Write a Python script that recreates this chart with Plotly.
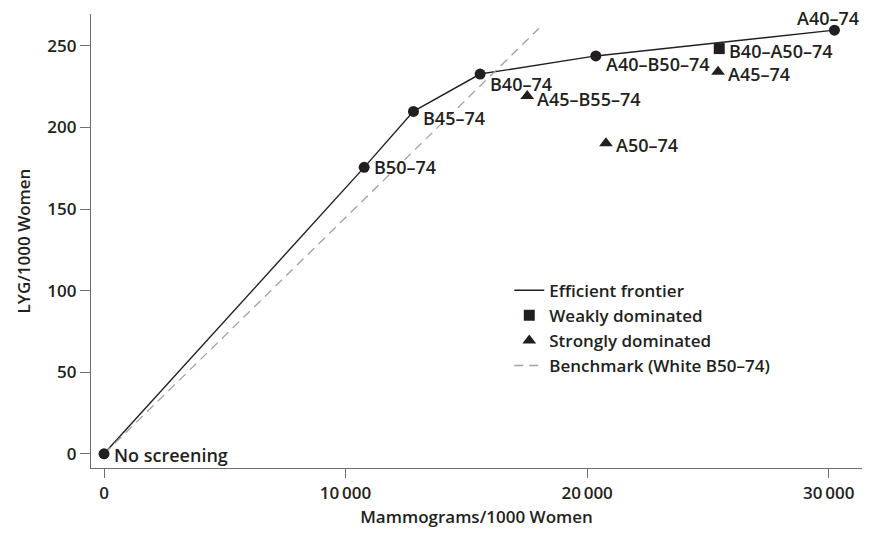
import plotly.graph_objects as go

# ---- data ----
frontier_names = ["No screening", "B50\u201374", "B45\u201374", "B40\u201374", "A40\u2013B50\u201374", "A40\u201374"]
frontier_x = [0, 10770, 12810, 15570, 20360, 30240]
frontier_y = [0, 175.6, 209.9, 232.8, 243.9, 259.7]

weak_names = ["B40\u2013A50\u201374"]
weak_x = [25470]
weak_y = [248.4]

strong_names = ["A45\u2013B55\u201374", "A45\u201374", "A50\u201374"]
strong_x = [17520, 25420, 20780]
strong_y = [219.3, 234.2, 190.4]

bench_x = [0, 18000]
bench_y = [0, 260.7]

x_ticks = [0, 10000, 20000, 30000]
x_ticklabels = ["0", "10\u2009000", "20\u2009000", "30\u2009000"]
y_ticks = [0, 50, 100, 150, 200, 250]

# label offsets (style only): name -> (xshift, yshift, xanchor, yanchor)
label_style = {
    "No screening": (8, -1, "left", "middle"),
    "B50\u201374": (8, 0, "left", "middle"),
    "B45\u201374": (8, -7, "left", "middle"),
    "B40\u201374": (8, -10, "left", "middle"),
    "A40\u2013B50\u201374": (8, -8, "left", "middle"),
    "A40\u201374": (-6, 12, "center", "middle"),
    "B40\u2013A50\u201374": (8, -2, "left", "middle"),
    "A45\u2013B55\u201374": (8, -3, "left", "middle"),
    "A45\u201374": (8, -2, "left", "middle"),
    "A50\u201374": (8, -2, "left", "middle"),
}

ink = "#231f20"
axis_col = "#6d6e71"
font_family = "Open Sans, Noto Sans, sans-serif"
FS = 17
LFS = 18

fig = go.Figure()
fig.add_trace(go.Scatter(x=frontier_x, y=frontier_y, mode="lines", name="Efficient frontier",
                         line=dict(color=ink, width=1.4)))
fig.add_trace(go.Scatter(x=weak_x, y=weak_y, mode="markers", name="Weakly dominated",
                         marker=dict(symbol="square", size=11, color=ink)))
fig.add_trace(go.Scatter(x=strong_x, y=strong_y, mode="markers", name="Strongly dominated",
                         marker=dict(symbol="triangle-up", size=12, color=ink)))
fig.add_trace(go.Scatter(x=bench_x, y=bench_y, mode="lines", name="Benchmark (White B50\u201374)",
                         line=dict(color="#a0a0a0", width=1.3, dash="9px,6px")))
fig.add_trace(go.Scatter(x=frontier_x, y=frontier_y, mode="markers", showlegend=False,
                         marker=dict(symbol="circle", size=11, color=ink)))

for names, xs, ys in [(frontier_names, frontier_x, frontier_y),
                      (weak_names, weak_x, weak_y),
                      (strong_names, strong_x, strong_y)]:
    for n, xv, yv in zip(names, xs, ys):
        xs_, ys_, xa, ya = label_style[n]
        fig.add_annotation(x=xv, y=yv, text=n, showarrow=False, xanchor=xa, yanchor=ya,
                           xshift=xs_, yshift=ys_,
                           font=dict(family=font_family, size=LFS, color=ink, weight=600))

fig.update_layout(
    width=876, height=535,
    margin=dict(l=91, r=14, t=14, b=62),
    paper_bgcolor="white", plot_bgcolor="white",
    font=dict(family=font_family, size=FS, color=ink, weight=600),
    showlegend=True,
    legend=dict(x=0.5425, y=0.4303, xanchor="left", yanchor="top",
                bgcolor="rgba(0,0,0,0)", font=dict(size=FS, weight=600),
                tracegroupgap=0, itemwidth=30),
    xaxis=dict(range=[-540, 31380], showgrid=False, zeroline=False,
               showline=True, linecolor=axis_col, linewidth=1.3,
               ticks="outside", ticklen=9, tickcolor=axis_col, tickwidth=1.3,
               tickvals=x_ticks, ticktext=x_ticklabels,
               title=dict(text="Mammograms/1000 Women", standoff=8,
                          font=dict(size=FS, weight=600))),
    yaxis=dict(range=[-8.7, 269.6], showgrid=False, zeroline=False,
               showline=True, linecolor=axis_col, linewidth=1.3,
               ticks="outside", ticklen=10, tickcolor=axis_col, tickwidth=1.3,
               tickvals=y_ticks,
               title=dict(text="LYG/1000 Women", standoff=12,
                          font=dict(size=FS, weight=600))),
)

fig.write_html("out.html")
